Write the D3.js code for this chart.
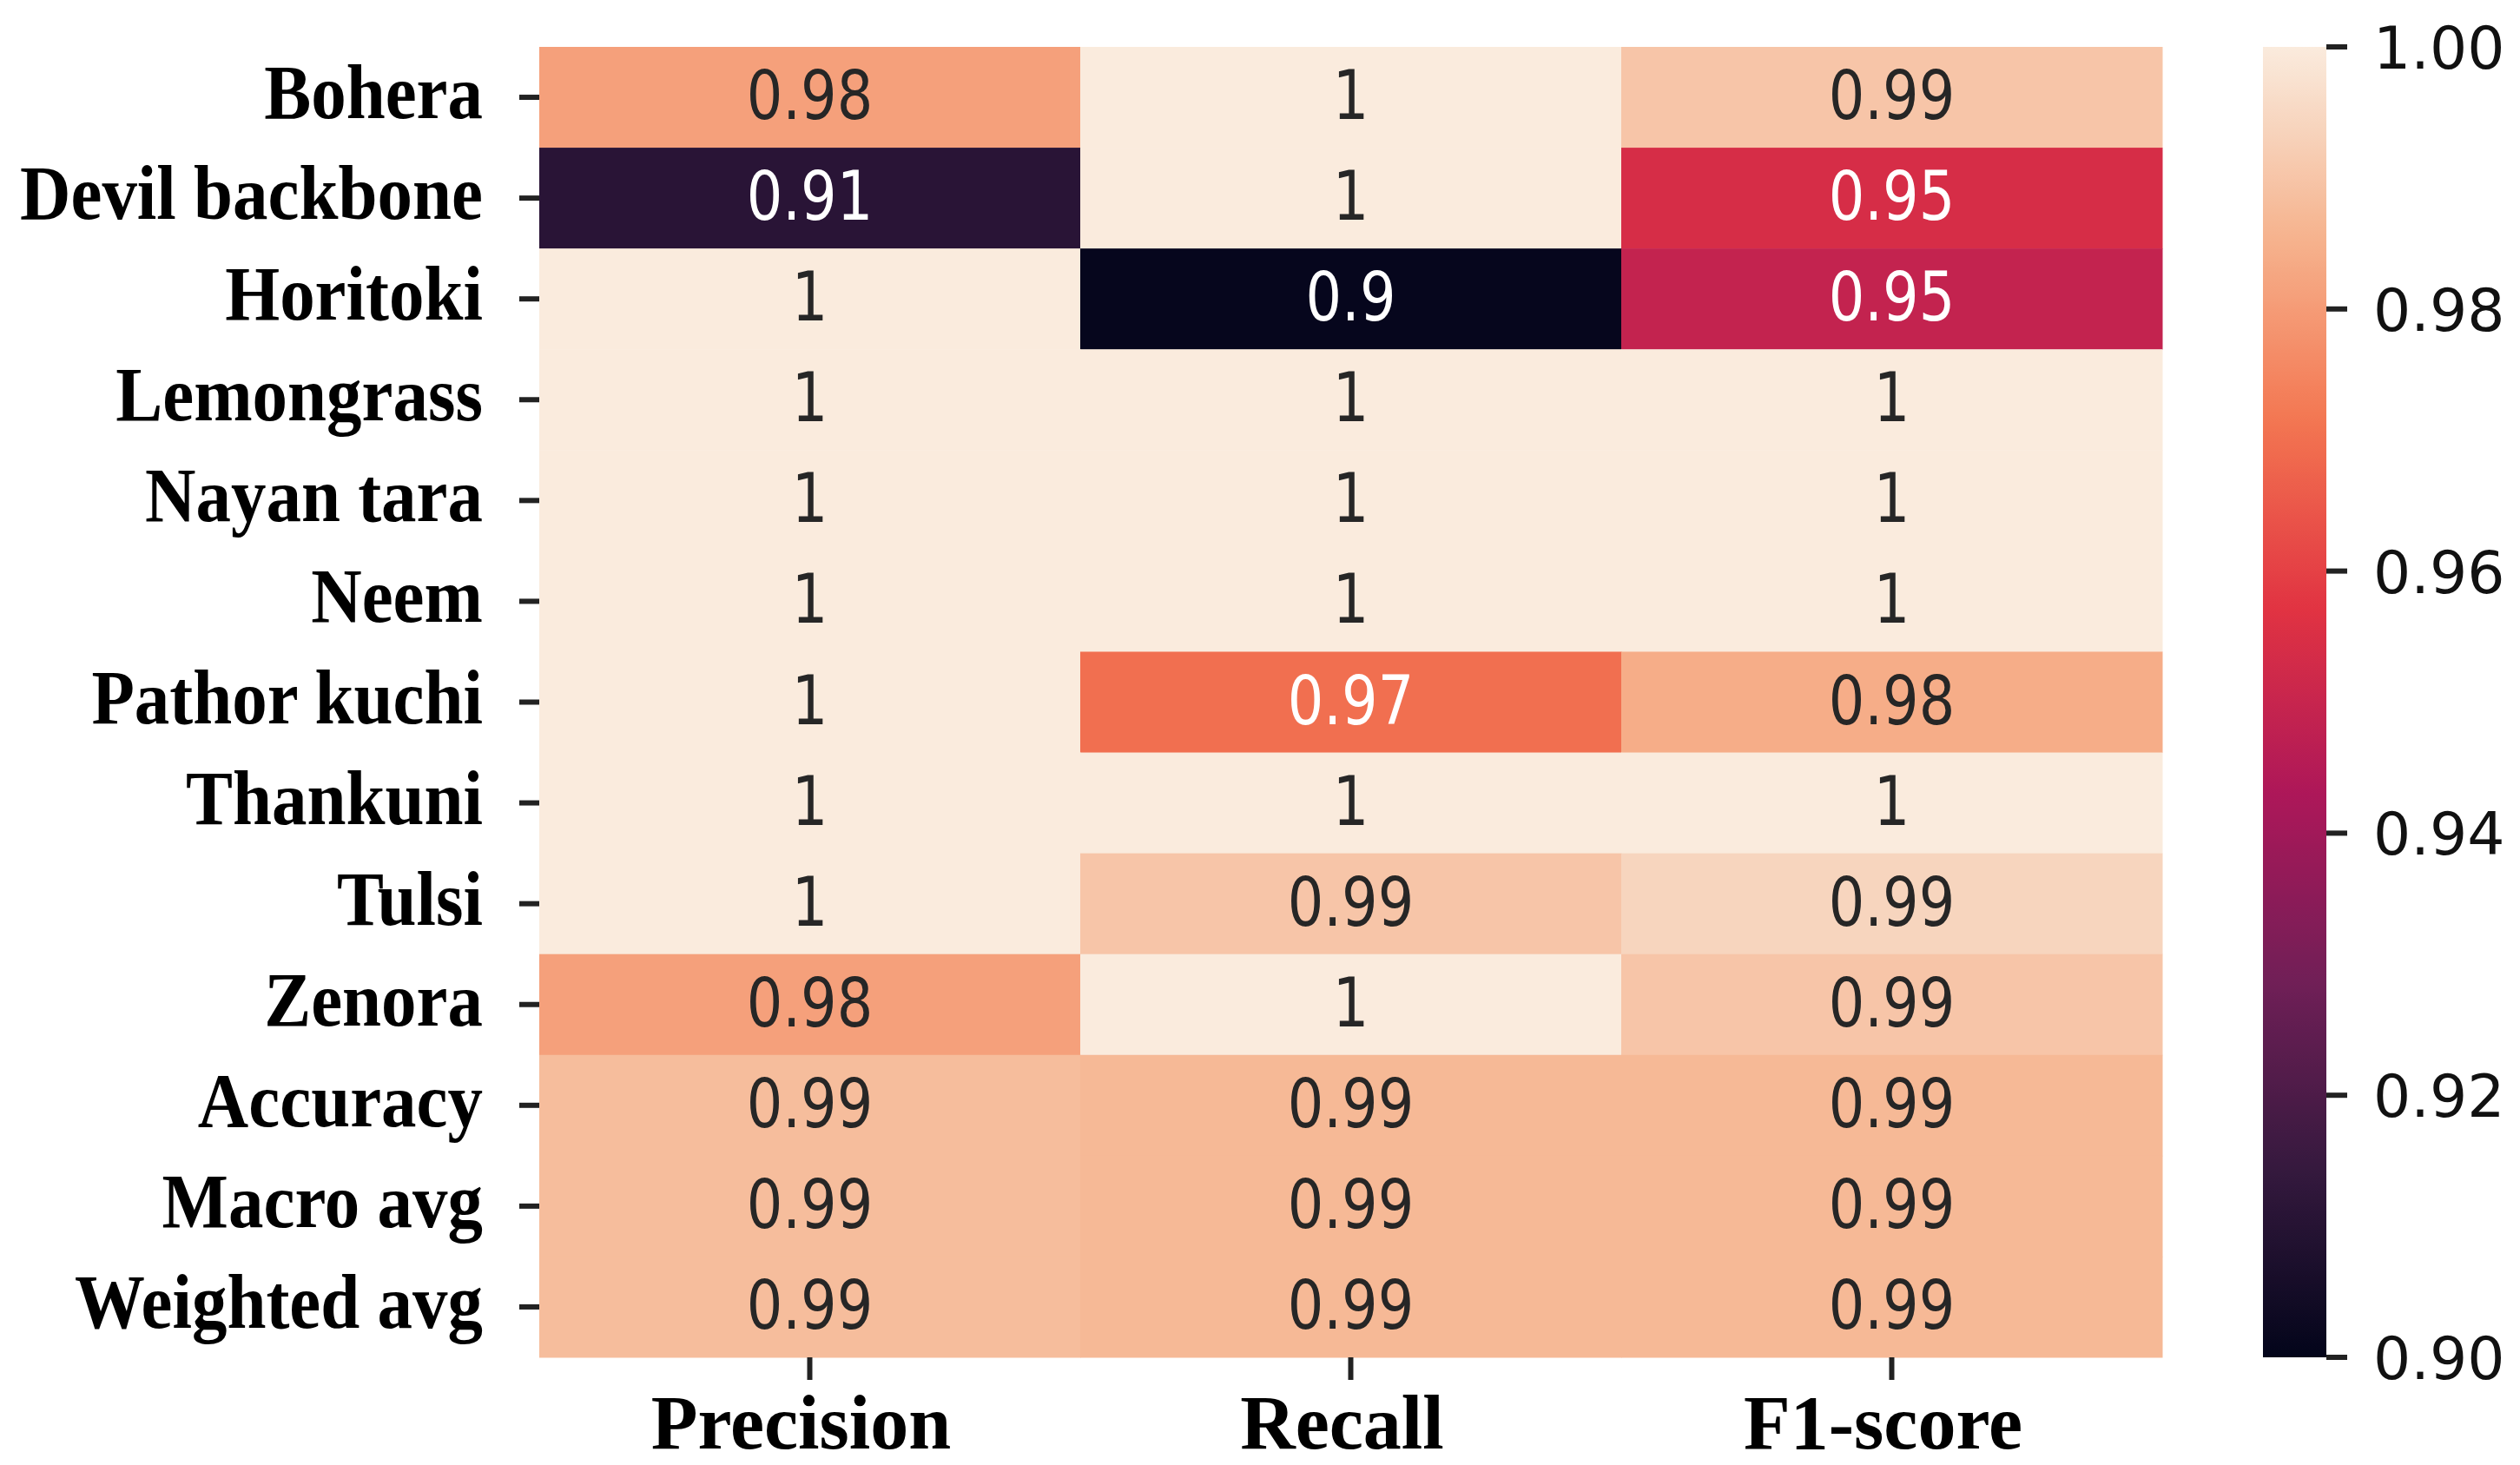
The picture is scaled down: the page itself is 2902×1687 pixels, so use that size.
<!DOCTYPE html>
<html>
<head>
<meta charset="utf-8">
<script src="https://cdn.jsdelivr.net/npm/d3@7"></script>
<style>
  body { margin: 0; background: #fff; }
</style>
</head>
<body>
<div class="canvas"></div>
<script>
// rows / columns of the classification report
const classes = [
  "Bohera", "Devil backbone", "Horitoki", "Lemongrass", "Nayan tara", "Neem",
  "Pathor kuchi", "Thankuni", "Tulsi", "Zenora", "Accuracy", "Macro avg", "Weighted avg",
];
const metrics = ["Precision", "Recall", "F1-score"];

// values per metric (colours give the extra digit)
const precision = [0.981, 0.911, 1, 1, 1, 1, 1, 1, 1, 0.981, 0.988, 0.988, 0.988];
const recall = [1, 1, 0.901, 1, 1, 1, 0.970, 1, 0.990, 1, 0.987, 0.987, 0.987];
const f1score = [0.990, 0.954, 0.949, 1, 1, 1, 0.984, 1, 0.994, 0.990, 0.987, 0.987, 0.987];

// colorbar ticks
const cbarTicks = [0.90, 0.92, 0.94, 0.96, 0.98, 1.00];

// dimensions
const dims = { width: 2902, height: 1687 };
const heat = { left: 621, right: 2490, top: 54, bottom: 1563 };
const cbar = { left: 2606, right: 2679 };

const svg = d3
  .select(".canvas")
  .append("svg")
  .attr("width", dims.width)
  .attr("height", dims.height);

// scales
const x = d3.scaleBand().domain(metrics).range([heat.left, heat.right]);
const y = d3.scaleBand().domain(classes).range([heat.top, heat.bottom]);

// rocket colormap (seaborn), approximated by stops
const rocketPos = [0, 0.143, 0.286, 0.429, 0.571, 0.714, 0.857, 0.93, 1];
const rocketCol = ["#03051a", "#35193e", "#701f57", "#ad1759", "#e13342",
  "#f37651", "#f6b48f", "#f7d1b9", "#faebdd"];
const color = d3
  .scaleLinear()
  .domain(rocketPos.map((p) => 0.9 + p * 0.1))
  .range(rocketCol)
  .interpolate(d3.interpolateRgb)
  .clamp(true);

// flat cell list
const columns = [precision, recall, f1score];
const cells = [];
classes.forEach((c, i) => {
  metrics.forEach((m, j) => cells.push({ row: c, col: m, value: columns[j][i] }));
});

// seaborn-ish annotation colour from luminance
const lum = (c) => {
  const rgb = d3.rgb(c);
  const f = (v) => {
    v /= 255;
    return v <= 0.03928 ? v / 12.92 : Math.pow((v + 0.055) / 1.055, 2.4);
  };
  return 0.2126 * f(rgb.r) + 0.7152 * f(rgb.g) + 0.0722 * f(rgb.b);
};
const fmt = d3.format(".2~g");

// cells
svg
  .append("g")
  .selectAll("rect")
  .data(cells)
  .enter()
  .append("rect")
  .attr("x", (d) => x(d.col))
  .attr("y", (d) => y(d.row))
  .attr("width", x.bandwidth() + 0.5)
  .attr("height", y.bandwidth() + 0.5)
  .attr("fill", (d) => color(d.value));

// annotations
svg
  .append("g")
  .selectAll("text")
  .data(cells)
  .enter()
  .append("text")
  .attr("transform", (d) => {
    const cx = x(d.col) + x.bandwidth() / 2;
    const cy = y(d.row) + y.bandwidth() / 2 + 25;
    return `translate(${cx}, ${cy}) scale(0.86, 1.04)`;
  })
  .attr("text-anchor", "middle")
  .attr("font-family", "DejaVu Sans")
  .attr("font-size", 76)
  .attr("fill", (d) => (lum(color(d.value)) > 0.408 ? "#262626" : "#ffffff"))
  .text((d) => fmt(d.value));

// y axis: tick marks + serif labels
const yAxis = svg.append("g");
yAxis
  .selectAll("line")
  .data(classes)
  .enter()
  .append("line")
  .attr("x1", heat.left - 23)
  .attr("x2", heat.left)
  .attr("y1", (d) => y(d) + y.bandwidth() / 2)
  .attr("y2", (d) => y(d) + y.bandwidth() / 2)
  .attr("stroke", "#222")
  .attr("stroke-width", 6);
yAxis
  .selectAll("text")
  .data(classes)
  .enter()
  .append("text")
  .attr("transform", (d) => `translate(${556}, ${y(d) + y.bandwidth() / 2 + 24}) scale(0.92, 1)`)
  .attr("text-anchor", "end")
  .attr("font-family", "Liberation Serif")
  .attr("font-weight", "bold")
  .attr("font-size", 88)
  .attr("fill", "#000")
  .text((d) => d);

// x axis: tick marks + serif labels
const xAxis = svg.append("g");
xAxis
  .selectAll("line")
  .data(metrics)
  .enter()
  .append("line")
  .attr("x1", (d) => x(d) + x.bandwidth() / 2)
  .attr("x2", (d) => x(d) + x.bandwidth() / 2)
  .attr("y1", heat.bottom)
  .attr("y2", heat.bottom + 26)
  .attr("stroke", "#222")
  .attr("stroke-width", 6);
xAxis
  .selectAll("text")
  .data(metrics)
  .enter()
  .append("text")
  .attr("x", (d) => x(d) + x.bandwidth() / 2 - 10)
  .attr("y", 1668)
  .attr("text-anchor", "middle")
  .attr("font-family", "Liberation Serif")
  .attr("font-weight", "bold")
  .attr("font-size", 88)
  .attr("fill", "#000")
  .text((d) => d);

// colorbar
const cbarScale = d3.scaleLinear().domain([0.9, 1.0]).range([heat.bottom, heat.top]);
const grad = svg
  .append("defs")
  .append("linearGradient")
  .attr("id", "cbar-grad")
  .attr("x1", 0)
  .attr("y1", 1)
  .attr("x2", 0)
  .attr("y2", 0);
grad
  .selectAll("stop")
  .data(d3.range(0, 1.0001, 0.01))
  .enter()
  .append("stop")
  .attr("offset", (t) => t)
  .attr("stop-color", (t) => color(0.9 + t * 0.1));
svg
  .append("rect")
  .attr("x", cbar.left)
  .attr("y", heat.top)
  .attr("width", cbar.right - cbar.left)
  .attr("height", heat.bottom - heat.top)
  .attr("fill", "url(#cbar-grad)");

const cbarAxis = svg.append("g");
cbarAxis
  .selectAll("line")
  .data(cbarTicks)
  .enter()
  .append("line")
  .attr("x1", cbar.right)
  .attr("x2", cbar.right + 24)
  .attr("y1", (d) => cbarScale(d))
  .attr("y2", (d) => cbarScale(d))
  .attr("stroke", "#222")
  .attr("stroke-width", 6);
cbarAxis
  .selectAll("text")
  .data(cbarTicks)
  .enter()
  .append("text")
  .attr("x", cbar.right + 54)
  .attr("y", (d) => cbarScale(d) + 25)
  .attr("font-family", "DejaVu Sans")
  .attr("font-size", 68)
  .attr("fill", "#111")
  .text((d) => d3.format(".2f")(d));
</script>
</body>
</html>
